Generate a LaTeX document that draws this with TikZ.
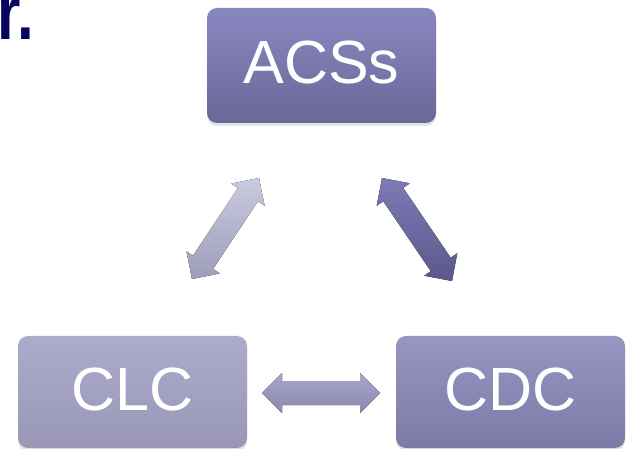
\documentclass[tikz,border=0pt]{standalone}
\usepackage{fontspec}
\setmainfont{Liberation Sans}
\usetikzlibrary{calc,shadows}
\definecolor{titlenavy}{HTML}{06065E}
\definecolor{acstop}{HTML}{8987C0}
\definecolor{acsbot}{HTML}{6A6898}
\definecolor{clctop}{HTML}{ADABCD}
\definecolor{clcbot}{HTML}{9997B5}
\definecolor{cdctop}{HTML}{9795C1}
\definecolor{cdcbot}{HTML}{7C7AA6}
\definecolor{latop}{HTML}{CACAE0}
\definecolor{labot}{HTML}{9E9CB8}
\definecolor{ratop}{HTML}{7D7BB6}
\definecolor{rabot}{HTML}{5A588A}
\definecolor{hatop}{HTML}{A8A6CA}
\definecolor{habot}{HTML}{8A88B0}
\newcommand\arrowoutline[2]{%
    (#1) -- ($(h1)!20pt!90:(#2)$) -- ($(h1)!12pt!90:(#2)$)
    -- ($(h2)!12pt!-90:(#1)$) -- ($(h2)!20pt!-90:(#1)$) -- (#2)
    -- ($(h2)!20pt!90:(#1)$) -- ($(h2)!12pt!90:(#1)$)
    -- ($(h1)!12pt!-90:(#2)$) -- ($(h1)!20pt!-90:(#2)$) -- cycle}
\newcommand\dblblockarrow[4]{%
  \coordinate (h1) at ($(#1)!20pt!(#2)$);
  \coordinate (h2) at ($(#2)!20pt!(#1)$);
  \fill[black, opacity=0.12, shift={(1pt,-3pt)}] \arrowoutline{#1}{#2};
  \fill[top color=#3, bottom color=#4, draw=none] \arrowoutline{#1}{#2};
}
\begin{document}
\begin{tikzpicture}[x=1pt,y=-1pt,
  boxnode/.style={rounded corners=10pt, minimum width=229pt, inner sep=0pt,
    text=white, font=\fontsize{61}{61}\selectfont, text depth=6pt,
    drop shadow={shadow xshift=0pt, shadow yshift=-3pt, opacity=0.22}},
  titletext/.style={anchor=base west, inner sep=0pt, text=titlenavy,
    font=\bfseries\fontsize{60}{60}\selectfont}]
\useasboundingbox (0,0) rectangle (627,449);
\fill[white] (0,0) rectangle (627,449);
\node[titletext] (title) at (-2.7,40) {\scalebox{1}[1.3]{r.}};
\node[boxnode, minimum height=115pt, top color=acstop, bottom color=acsbot] (acs) at (321.5,65.5) {ACSs};
\node[boxnode, minimum height=112pt, top color=clctop, bottom color=clcbot] (clc) at (132.5,392) {CLC};
\node[boxnode, minimum height=112pt, top color=cdctop, bottom color=cdcbot] (cdc) at (510.5,392) {CDC};
\coordinate (la1) at (192,279);
\coordinate (la2) at (259,178);
\coordinate (ra1) at (382,178);
\coordinate (ra2) at (452,281);
\coordinate (ha1) at (262,393);
\coordinate (ha2) at (380,393);
\dblblockarrow{la1}{la2}{latop}{labot}
\dblblockarrow{ra1}{ra2}{ratop}{rabot}
\dblblockarrow{ha1}{ha2}{hatop}{habot}
\end{tikzpicture}
\end{document}
